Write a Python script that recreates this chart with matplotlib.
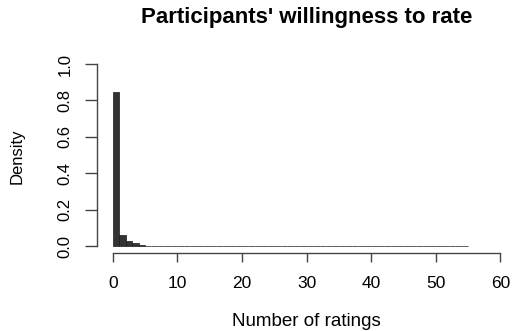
import matplotlib.pyplot as plt
import numpy as np

plt.rcParams['font.family'] = ['Liberation Sans', 'DejaVu Sans']

# histogram of ratings per participant, bins of width 1 (density)
bin_edges = list(range(0, 56))
density = [0.845, 0.060, 0.030, 0.018, 0.008,
           0.002, 0.001, 0.002, 0.001, 0.002,
           0.001, 0.001, 0.001, 0.001, 0.001,
           0.002, 0.001, 0.001, 0.002, 0.001,
           0.001, 0.002, 0.001, 0.001, 0.002,
           0.001, 0.0005, 0.0005, 0.0005, 0.0005,
           0.0005, 0.0005, 0.0005, 0.0005, 0.0005,
           0.0005, 0.0005, 0.0005, 0.0005, 0.0005,
           0.0005, 0.0005, 0.0005, 0.0005, 0.0005,
           0.0005, 0.0005, 0.0005, 0.0005, 0.0005,
           0.0005, 0.0005, 0.0005, 0.0005, 0.002]
x_ticks = [0, 10, 20, 30, 40, 50, 60]
y_ticks = [0.0, 0.2, 0.4, 0.6, 0.8, 1.0]

W, H = 512, 331
fig = plt.figure(figsize=(W / 100, H / 100), dpi=100)
ax = fig.add_axes([97.2 / W, 77.7 / H, (516 - 97.2) / W, (274.2 - 77.7) / H])

ax.bar(bin_edges[:-1], density, width=1, align='edge',
       facecolor='#333333', edgecolor='#1a1a1a', linewidth=0.5)

ax.set_xlim(-2.4, 62.4)
ax.set_ylim(-0.04, 1.04)

for s in ['top', 'right']:
    ax.spines[s].set_visible(False)
ax.spines['left'].set_bounds(0, 1)
ax.spines['bottom'].set_bounds(0, 60)
for s in ['left', 'bottom']:
    ax.spines[s].set_color('#444444')
    ax.spines[s].set_linewidth(1.0)

ax.set_xticks(x_ticks)
ax.set_xticklabels([str(t) for t in x_ticks])
ax.set_yticks(y_ticks)
ax.set_yticklabels([f'{t:.1f}' for t in y_ticks], rotation=90, va='center')
ax.tick_params(axis='x', length=6.8, width=1.0, color='#444444', pad=9.5, labelsize=12.5)
ax.tick_params(axis='y', length=8.6, width=1.0, color='#444444', pad=9, labelsize=12)

fig.text(306.5 / W, 1 - 17 / H, "Participants' willingness to rate",
         ha='center', va='center', fontsize=16, fontweight='bold')
fig.text(306 / W, 1 - 322 / H, 'Number of ratings',
         ha='center', va='center', fontsize=13.5)
fig.text(17 / W, 1 - 156 / H, 'Density', rotation=90,
         ha='center', va='center', fontsize=12)

fig.savefig('out.png', dpi=100)
